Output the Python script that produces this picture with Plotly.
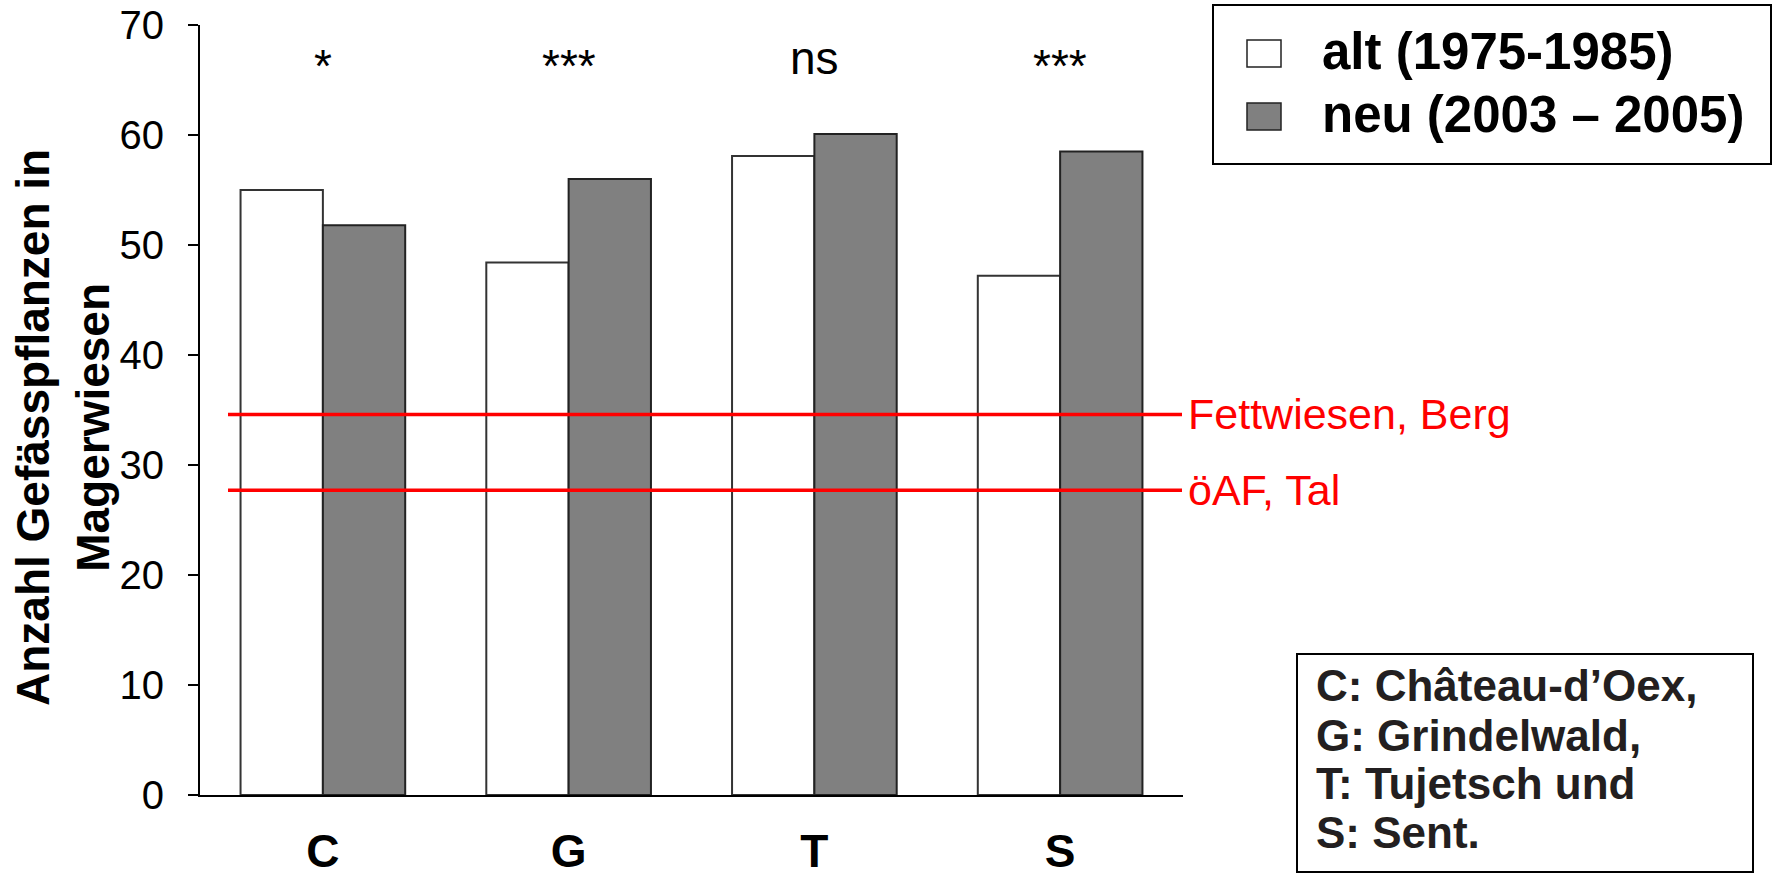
import plotly.graph_objects as go

# Artenzahlen (Gefässpflanzen) in Magerwiesen, alt vs. neu
categories = ["C", "G", "T", "S"]
alt_values = [55.0, 48.4, 58.1, 47.2]
neu_values = [51.8, 56.0, 60.1, 58.5]
significance = ["*", "***", "ns", "***"]

# Referenzlinien
ref_labels = ["Fettwiesen, Berg", "öAF, Tal"]
ref_values = [34.6, 27.7]

legend_labels = ["alt (1975-1985)", "neu (2003 – 2005)"]
site_lines = ["C: Château-d’Oex,", "G: Grindelwald,", "T: Tujetsch und", "S: Sent."]
y_title = "Anzahl Gefässpflanzen in<br>Magerwiesen"

FONT = "Liberation Sans, Arial, Helvetica, sans-serif"
W, H = 1777, 880
ML, MR, MT, MB = 200, 594, 25, 85
PW, PH = W - ML - MR, H - MT - MB


def px(x):
    return (x - ML) / PW


def py(y):
    return (H - MB - y) / PH


fig = go.Figure()
fig.add_trace(go.Bar(
    x=categories, y=alt_values, name=legend_labels[0],
    marker=dict(color="white", line=dict(color="#333333", width=2)),
    showlegend=False,
))
fig.add_trace(go.Bar(
    x=categories, y=neu_values, name=legend_labels[1],
    marker=dict(color="#808080", line=dict(color="#222222", width=2)),
    showlegend=False,
))

shapes = []
annotations = []

# red reference lines with labels
for lab, val in zip(ref_labels, ref_values):
    shapes.append(dict(type="line", xref="paper", yref="y",
                       x0=px(228), x1=px(1182), y0=val, y1=val,
                       line=dict(color="#ff0000", width=3.5)))
    annotations.append(dict(xref="paper", yref="y", x=px(1186), y=val,
                            text=lab, showarrow=False, xanchor="left",
                            yanchor="middle",
                            font=dict(family=FONT, size=43, color="#ff0000")))

# significance marks above the groups
for cat, sig in zip(categories, significance):
    annotations.append(dict(xref="x", yref="y", x=cat, y=67.0, text=sig,
                            showarrow=False, xanchor="center",
                            yanchor="middle",
                            yshift=-8 if sig.startswith("*") else 0,
                            font=dict(family=FONT, size=46, color="black")))

# rotated y-axis title
annotations.append(dict(xref="paper", yref="paper", x=px(63), y=py(428),
                        text=y_title, textangle=-90, showarrow=False,
                        xanchor="center", yanchor="middle",
                        font=dict(family=FONT, size=46, color="black",
                                  weight="bold")))

# legend box
shapes.append(dict(type="rect", xref="paper", yref="paper",
                   x0=px(1213), x1=px(1771), y0=py(164), y1=py(5),
                   line=dict(color="black", width=2), fillcolor="white"))
swatches = [("white", 40, 67), ("#808080", 103, 130)]
for (fill, ytop, ybot), lab in zip(swatches, legend_labels):
    shapes.append(dict(type="rect", xref="paper", yref="paper",
                       x0=px(1247), x1=px(1281), y0=py(ybot), y1=py(ytop),
                       line=dict(color="#222222", width=1.5), fillcolor=fill))
    annotations.append(dict(xref="paper", yref="paper", x=px(1320),
                            y=py((ytop + ybot) / 2 - 2), text=lab,
                            showarrow=False, xanchor="left", yanchor="middle",
                            font=dict(family=FONT, size=51, color="black",
                                      weight="bold")))

# site key box
shapes.append(dict(type="rect", xref="paper", yref="paper",
                   x0=px(1297), x1=px(1753), y0=py(872), y1=py(654),
                   line=dict(color="black", width=2), fillcolor="white"))
for line, yc in zip(site_lines, [685, 735, 783, 832]):
    annotations.append(dict(xref="paper", yref="paper", x=px(1314), y=py(yc),
                            text=line, showarrow=False, xanchor="left",
                            yanchor="middle",
                            font=dict(family=FONT, size=44, color="#231f20",
                                      weight="bold")))

fig.update_layout(
    width=W, height=H,
    margin=dict(l=ML, r=MR, t=MT, b=MB, pad=0),
    paper_bgcolor="white", plot_bgcolor="white",
    barmode="group", bargap=0.33, bargroupgap=0,
    showlegend=False,
    shapes=shapes, annotations=annotations,
    font=dict(family=FONT, color="black"),
)
fig.update_xaxes(
    range=[-0.5, 3.5], showline=True, linecolor="black", linewidth=2,
    ticks="", showgrid=False, zeroline=False, automargin=False,
    tickfont=dict(family=FONT, size=46, color="black", weight="bold"),
    ticklabelstandoff=15,
)
fig.update_yaxes(
    range=[0, 70], dtick=10, showline=True, linecolor="black", linewidth=2,
    ticks="outside", ticklen=10, tickwidth=2, tickcolor="black",
    showgrid=False, zeroline=False, automargin=False,
    tickfont=dict(family=FONT, size=40, color="black"),
    ticklabelstandoff=16,
)

fig.write_html("out.html")
